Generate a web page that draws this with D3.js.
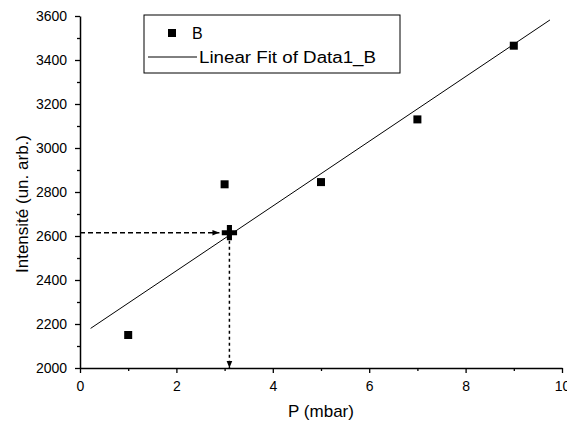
<!DOCTYPE html>
<html>
<head>
<meta charset="utf-8">
<script src="https://cdn.jsdelivr.net/npm/d3@7"></script>
<style>
body { margin: 0; background: #fff; }
text { font-family: "Liberation Sans", Arial, sans-serif; }
</style>
</head>
<body>
<script>
var pX = [1, 3, 5, 7, 9];
var pY = [2150, 2835, 2845, 3130, 3465];
var fitX = [0.22, 9.75];
var fitY = [2180, 3582];
var markX = 3.1, markY = 2615;
var xTicks = [0, 2, 4, 6, 8, 10];
var yTicks = [2000, 2200, 2400, 2600, 2800, 3000, 3200, 3400, 3600];

var w = 567, h = 422;
var svg = d3.select("body").append("svg")
	.attr("width", w)
	.attr("height", h);

var x = d3.scaleLinear().domain([0, 10]).range([80, 562]);
var y = d3.scaleLinear().domain([2000, 3600]).range([368, 16]);

var defs = svg.append("defs");
defs.append("marker")
	.attr("id", "arr")
	.attr("viewBox", "0 0 10 10")
	.attr("refX", 10).attr("refY", 5)
	.attr("markerWidth", 7).attr("markerHeight", 7)
	.attr("markerUnits", "userSpaceOnUse")
	.attr("orient", "auto")
	.append("path").attr("d", "M0,1 L10,5 L0,9 Z").attr("fill", "#000");

// axes
var xAxis = d3.axisBottom(x).tickValues(xTicks).tickSize(5).tickPadding(8).tickSizeOuter(0).tickFormat(d3.format("d"));
var gx = svg.append("g").attr("transform", "translate(0,368)").call(xAxis);
svg.append("g").attr("transform", "translate(0,368)")
	.call(d3.axisBottom(x).tickValues([1, 3, 5, 7, 9]).tickSize(3).tickFormat(""))
	.select(".domain").remove();

var yAxis = d3.axisLeft(y).tickValues(yTicks).tickSize(5).tickPadding(8).tickSizeOuter(0).tickFormat(d3.format("d"));
var gy = svg.append("g").attr("transform", "translate(80,0)").call(yAxis);
svg.append("g").attr("transform", "translate(80,0)")
	.call(d3.axisLeft(y).tickValues([2100, 2300, 2500, 2700, 2900, 3100, 3300, 3500]).tickSize(3).tickFormat(""))
	.select(".domain").remove();

svg.selectAll(".domain").attr("stroke-width", 1.5);
svg.selectAll(".tick line").attr("stroke-width", 1.3);
gx.selectAll("text").attr("font-size", 14).attr("fill", "#000");
gy.selectAll("text").attr("font-size", 14).attr("fill", "#000").attr("textLength", 31);

svg.append("text").attr("x", 321).attr("y", 417)
	.attr("text-anchor", "middle").attr("font-size", 17).text("P (mbar)");
svg.append("text")
	.attr("transform", "translate(28,204) rotate(-90)")
	.attr("text-anchor", "middle").attr("font-size", 17).text("Intensité (un. arb.)");

// fit line
svg.append("line")
	.attr("x1", x(fitX[0])).attr("y1", y(fitY[0]))
	.attr("x2", x(fitX[1])).attr("y2", y(fitY[1]))
	.attr("stroke", "#000").attr("stroke-width", 1);

// data points
svg.selectAll("rect.pt")
	.data(pX)
	.enter()
	.append("rect")
	.attr("class", "pt")
	.attr("x", function(d){return x(d) - 4;})
	.attr("y", function(d, i){return y(pY[i]) - 4;})
	.attr("width", 8).attr("height", 8)
	.attr("fill", "#000");

// dashed guides
svg.append("line")
	.attr("x1", x(0)).attr("y1", y(markY))
	.attr("x2", x(markX) - 10).attr("y2", y(markY))
	.attr("stroke", "#000").attr("stroke-width", 1.5)
	.attr("stroke-dasharray", "5,3")
	.attr("marker-end", "url(#arr)");
svg.append("line")
	.attr("x1", x(markX)).attr("y1", y(markY) + 8)
	.attr("x2", x(markX)).attr("y2", y(2000))
	.attr("stroke", "#000").attr("stroke-width", 1.5)
	.attr("stroke-dasharray", "3,3")
	.attr("marker-end", "url(#arr)");

svg.append("path")
	.attr("d", d3.symbol().type(d3.symbolCross).size(130)())
	.attr("transform", "translate(" + x(markX) + "," + y(markY) + ")")
	.attr("fill", "#000");

// legend
var lg = svg.append("g");
lg.append("rect").attr("x", 144).attr("y", 15).attr("width", 256).attr("height", 58)
	.attr("fill", "#fff").attr("stroke", "#000").attr("stroke-width", 1);
lg.append("rect").attr("x", 168).attr("y", 29).attr("width", 8).attr("height", 8).attr("fill", "#000");
lg.append("text").attr("x", 192).attr("y", 39).attr("font-size", 16).text("B");
lg.append("line").attr("x1", 148).attr("x2", 197).attr("y1", 57).attr("y2", 57)
	.attr("stroke", "#000").attr("stroke-width", 1);
lg.append("text").attr("x", 199).attr("y", 63).attr("font-size", 16)
	.attr("textLength", 177).attr("lengthAdjust", "spacingAndGlyphs").text("Linear Fit of Data1_B");
</script>
</body>
</html>
